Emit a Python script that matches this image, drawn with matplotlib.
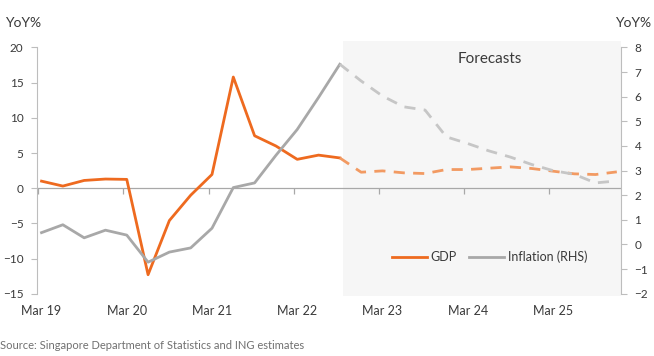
import matplotlib.pyplot as plt
from matplotlib.patches import Rectangle
import matplotlib.transforms as mtransforms

plt.rcParams['font.family'] = ['Lato', 'DejaVu Sans']

# quarterly data, Mar 19 .. Dec 25 (index 0..27)
gdp_actual = [1.0, 0.3, 1.1, 1.3, 1.25, -12.3, -4.6, -1.0, 1.95, 15.8, 7.45, 6.0, 4.1, 4.7, 4.3]
gdp_forecast = [4.3, 2.27, 2.46, 2.18, 2.08, 2.65, 2.65, 2.84, 3.03, 2.8, 2.42, 2.04, 1.94, 2.32]
infl_actual = [0.48, 0.8, 0.27, 0.58, 0.38, -0.72, -0.31, -0.14, 0.66, 2.31, 2.5, 3.62, 4.67, 5.97, 7.32]
infl_forecast = [7.32, 6.64, 6.03, 5.59, 5.46, 4.37, 4.1, 3.8, 3.55, 3.25, 3.0, 2.85, 2.5, 2.58]
tick_labels = ['Mar 19', 'Mar 20', 'Mar 21', 'Mar 22', 'Mar 23', 'Mar 24', 'Mar 25']

orange = '#EE6A1F'
orange_light = '#F29A62'
grey = '#A8A8A8'
grey_light = '#C6C6C6'
txt = '#3A3A3A'
axis_col = '#BDBDBD'

rect = [0.057, 0.175, 0.892, 0.6916]
fig = plt.figure(figsize=(6.54, 3.56), dpi=100)
ax = fig.add_axes(rect)
ax2 = ax.twinx()
# overlay axes only for the small tick marks hanging from the zero line
ax3 = fig.add_axes(rect)
ax3.patch.set_visible(False)
for s in ax3.spines.values():
    s.set_visible(False)

n_act = len(gdp_actual)
x_act = list(range(n_act))
x_fc = list(range(n_act - 1, n_act - 1 + len(gdp_forecast)))

# forecast shading
blend = mtransforms.blended_transform_factory(ax.transData, ax.transAxes)
ax.add_patch(Rectangle((14.16, -0.01), 27.18 - 14.16, 1.035, transform=blend,
                       facecolor='#F6F6F6', edgecolor='none', zorder=0, clip_on=False))

ax.axhline(0, color=grey, lw=0.9, zorder=1)
ax.plot(x_act, gdp_actual, color=orange, lw=2.0, label='GDP', zorder=3)
ax.plot(x_fc, gdp_forecast, color=orange_light, lw=2.0, ls=(0, (4, 3)), zorder=3)
ax2.plot(x_act, infl_actual, color=grey, lw=2.0, label='Inflation (RHS)', zorder=3)
ax2.plot(x_fc, infl_forecast, color=grey_light, lw=2.0, ls=(0, (4, 3)), zorder=3)

for a in (ax, ax3):
    a.set_xlim(-0.2, 27.18)
    a.set_ylim(-15, 20)
ax2.set_ylim(-2, 8)
ax.set_yticks(range(-15, 21, 5))
ax2.set_yticks(range(-2, 9))

# labels under the data points
ax.set_xticks([4 * k for k in range(len(tick_labels))])
ax.set_xticklabels(tick_labels)
ax.tick_params(axis='x', length=0, pad=8, labelsize=9, labelcolor=txt)

# tick marks slightly left of the points, on the zero line
ax3.set_xticks([4 * k - 0.16 for k in range(len(tick_labels))])
ax3.spines['bottom'].set_position(('data', 0))
ax3.tick_params(axis='x', length=4, width=0.9, color='#A8A8A8', labelbottom=False)
ax3.set_yticks([])

ax.tick_params(axis='y', length=4, color=axis_col, pad=6, labelsize=8.5, labelcolor=txt)
ax2.tick_params(axis='y', length=4, color=axis_col, pad=6, labelsize=8.5, labelcolor=txt)

for a in (ax, ax2):
    a.spines['top'].set_visible(False)
    a.patch.set_visible(False)
ax.spines['bottom'].set_visible(False)
ax2.spines['bottom'].set_visible(False)
ax.spines['right'].set_visible(False)
ax2.spines['left'].set_visible(False)
ax.spines['left'].set_color(axis_col)
ax2.spines['right'].set_color(axis_col)

fig.text(0.007, 0.935, 'YoY%', fontsize=10, color=txt, va='center')
fig.text(0.995, 0.935, 'YoY%', fontsize=10, color=txt, va='center', ha='right')
ax.text(0.776, 0.955, 'Forecasts', transform=ax.transAxes, fontsize=11, color=txt,
        ha='center', va='center')
fig.text(0.0, 0.03, 'Source: Singapore Department of Statistics and ING estimates',
         fontsize=8, color='#707070', va='center')

h1, l1 = ax.get_legend_handles_labels()
h2, l2 = ax2.get_legend_handles_labels()
ax2.legend(h1 + h2, l1 + l2, loc='center', bbox_to_anchor=(0.775, 0.149), ncol=2,
           frameon=False, fontsize=9, handlelength=2.8, handletextpad=0.3,
           columnspacing=1.0, labelcolor=txt)

fig.savefig('out.png', dpi=100)
